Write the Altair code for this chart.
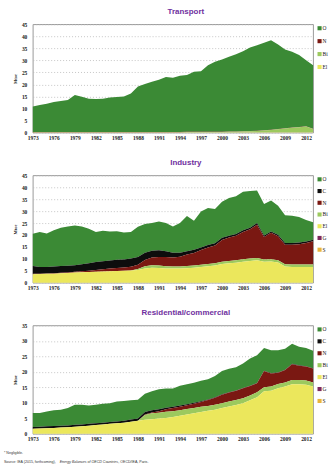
import altair as alt
import pandas as pd

years = list(range(1973, 2014))
tick_years = [1973, 1976, 1979, 1982, 1985, 1988, 1991, 1994, 1997, 2000, 2003, 2006, 2009, 2012]

# ---------------- Transport (Mtoe) ----------------
transport_oil = [10.5, 11.2, 11.7, 12.4, 12.8, 13.2, 15.3, 14.6, 13.8, 13.7, 13.8, 14.3, 14.5, 14.7,
                 15.9, 18.8, 19.9, 20.8, 21.7, 22.8, 22.5, 23.3, 23.5, 24.9, 25.1, 27.6, 29.0, 30.0,
                 31.0, 32.0, 33.2, 34.7, 35.5, 36.3, 37.2, 35.1, 32.7, 31.5, 29.9, 27.5, 26.4]
transport_gas = [0.1, 0.1, 0.1, 0.1, 0.1, 0.1, 0.1, 0.1, 0.1, 0.1, 0.1, 0.1, 0.1, 0.1,
                 0.1, 0.1, 0.1, 0.1, 0.1, 0.1, 0.1, 0.1, 0.1, 0.1, 0.1, 0.1, 0.1, 0.1,
                 0.1, 0.1, 0.1, 0.1, 0.1, 0.1, 0.1, 0.1, 0.1, 0.1, 0.1, 0.1, 0.1]
transport_bio = [0.0, 0.0, 0.0, 0.0, 0.0, 0.0, 0.0, 0.0, 0.0, 0.0, 0.0, 0.0, 0.0, 0.0,
                 0.0, 0.0, 0.0, 0.0, 0.0, 0.0, 0.0, 0.0, 0.1, 0.1, 0.1, 0.1, 0.1, 0.1,
                 0.2, 0.2, 0.3, 0.4, 0.5, 0.7, 0.9, 1.2, 1.5, 1.8, 2.0, 2.3, 1.3]
transport_elec = [0.2, 0.2, 0.2, 0.2, 0.2, 0.2, 0.2, 0.2, 0.2, 0.2, 0.2, 0.2, 0.2, 0.2,
                  0.2, 0.2, 0.2, 0.2, 0.2, 0.2, 0.2, 0.2, 0.2, 0.2, 0.2, 0.2, 0.2, 0.2,
                  0.2, 0.2, 0.2, 0.2, 0.2, 0.2, 0.2, 0.2, 0.2, 0.2, 0.2, 0.2, 0.2]

# ---------------- Industry (Mtoe) ----------------
industry_oil = [13.5, 14.6, 14.0, 15.2, 16.0, 16.5, 16.7, 15.9, 14.4, 12.6,
                12.8, 12.2, 12.0, 11.3, 11.2, 12.7, 12.0, 11.6, 12.1, 11.8,
                11.0, 12.4, 14.8, 12.2, 15.0, 15.5, 14.4, 15.1, 15.8, 15.8,
                16.1, 15.4, 13.6, 13.2, 13.0, 12.2, 11.7, 11.5, 10.7, 9.0, 7.3]
industry_coal = [3.3, 2.8, 2.7, 2.8, 2.8, 2.8, 2.7, 2.9, 3.2, 3.4,
                 3.4, 3.4, 3.4, 3.3, 3.4, 3.3, 3.1, 2.8, 2.8, 2.4,
                 2.0, 1.7, 1.4, 1.3, 1.1, 1.0, 0.9, 0.9, 0.8, 0.7,
                 0.7, 0.6, 0.7, 0.6, 0.6, 0.6, 0.7, 0.7, 0.7, 0.7, 0.6]
industry_gas = [0.2, 0.2, 0.2, 0.2, 0.2, 0.2, 0.3, 0.4, 0.5, 0.7,
                0.9, 1.1, 1.3, 1.4, 1.6, 1.8, 2.6, 3.3, 3.6, 3.9,
                3.8, 4.1, 4.8, 5.3, 6.2, 7.0, 7.5, 9.1, 9.8, 10.3,
                11.5, 12.3, 13.9, 9.5, 11.1, 10.1, 8.2, 8.3, 8.5, 9.0, 9.8]
industry_bio = [0.0, 0.0, 0.0, 0.0, 0.0, 0.0, 0.0, 0.0, 0.0, 0.0,
                0.0, 0.0, 0.0, 0.0, 0.0, 0.4, 1.0, 1.0, 1.0, 0.9,
                0.9, 0.9, 0.9, 0.9, 0.9, 0.9, 0.9, 1.0, 1.0, 1.0,
                1.0, 1.0, 1.0, 0.9, 0.9, 0.9, 0.9, 1.0, 1.0, 1.0, 1.0]
industry_elec = [3.5, 3.6, 3.7, 3.8, 4.0, 4.1, 4.3, 4.4, 4.5, 4.6,
                 4.7, 4.8, 4.9, 5.0, 5.1, 5.3, 5.9, 6.3, 6.2, 6.0,
                 5.9, 5.9, 6.1, 6.3, 6.6, 6.9, 7.2, 7.8, 8.1, 8.4,
                 8.8, 9.1, 9.4, 8.8, 8.9, 8.5, 6.8, 6.6, 6.6, 6.6, 6.6]
industry_geo = [0.0, 0.0, 0.0, 0.0, 0.0, 0.0, 0.0, 0.0, 0.0, 0.0,
                0.0, 0.0, 0.0, 0.0, 0.0, 0.0, 0.0, 0.0, 0.0, 0.0,
                0.0, 0.0, 0.0, 0.0, 0.0, 0.0, 0.0, 0.0, 0.0, 0.0,
                0.0, 0.0, 0.0, 0.0, 0.0, 0.0, 0.0, 0.0, 0.0, 0.0, 0.0]
industry_solar = [0.0, 0.0, 0.0, 0.0, 0.0, 0.0, 0.0, 0.0, 0.0, 0.0,
                  0.0, 0.0, 0.0, 0.0, 0.0, 0.0, 0.0, 0.0, 0.0, 0.0,
                  0.0, 0.0, 0.0, 0.0, 0.0, 0.0, 0.0, 0.0, 0.0, 0.0,
                  0.0, 0.0, 0.0, 0.0, 0.0, 0.0, 0.0, 0.0, 0.0, 0.0, 0.0]

# ---------------- Residential/commercial (Mtoe) ----------------
resid_oil = [4.5, 4.4, 4.8, 5.1, 5.2, 5.6, 6.5, 6.4, 5.9, 6.0,
             6.1, 6.1, 6.4, 6.4, 6.2, 6.1, 5.9, 6.1, 6.5, 6.2,
             5.9, 6.4, 6.5, 6.5, 6.6, 6.5, 6.9, 7.5, 7.6, 7.5,
             7.9, 8.8, 9.0, 7.3, 7.4, 7.2, 6.8, 6.5, 6.0, 5.9, 5.6]
resid_coal = [0.6, 0.6, 0.6, 0.6, 0.6, 0.6, 0.6, 0.6, 0.6, 0.6,
              0.6, 0.6, 0.6, 0.6, 0.7, 0.7, 0.8, 0.7, 0.6, 0.5,
              0.4, 0.4, 0.3, 0.3, 0.2, 0.2, 0.2, 0.2, 0.1, 0.1,
              0.1, 0.1, 0.1, 0.1, 0.1, 0.1, 0.1, 0.1, 0.1, 0.1, 0.1]
resid_gas = [0.0, 0.0, 0.0, 0.0, 0.0, 0.0, 0.0, 0.0, 0.0, 0.0,
             0.0, 0.0, 0.0, 0.0, 0.0, 0.0, 0.1, 0.3, 0.5, 0.8,
             1.0, 1.1, 1.2, 1.4, 1.6, 1.9, 2.2, 2.7, 2.9, 3.0,
             3.2, 3.0, 2.9, 5.3, 4.2, 3.6, 4.0, 5.1, 4.6, 4.5, 4.5]
resid_bio = [0.0, 0.0, 0.0, 0.0, 0.0, 0.0, 0.0, 0.0, 0.0, 0.0,
             0.0, 0.0, 0.0, 0.0, 0.0, 0.0, 1.6, 1.9, 1.9, 2.0,
             1.9, 1.8, 1.8, 1.7, 1.7, 1.6, 1.6, 1.6, 1.6, 1.6,
             1.6, 1.6, 1.6, 1.3, 1.4, 1.4, 1.3, 1.4, 1.4, 1.4, 1.3]
resid_elec = [1.6, 1.7, 1.8, 1.9, 2.0, 2.1, 2.3, 2.4, 2.6, 2.8,
              3.0, 3.2, 3.4, 3.6, 3.9, 4.2, 4.5, 4.7, 4.9, 5.1,
              5.4, 5.8, 6.2, 6.6, 7.0, 7.4, 7.8, 8.3, 8.8, 9.3,
              9.9, 10.8, 11.8, 13.7, 13.9, 14.7, 15.3, 16.0, 16.0, 15.8, 15.3]
resid_geo = industry_geo
resid_solar = industry_solar

COLORS = {
    "Oil": "#3b8a35",
    "Coal": "#0d0d0d",
    "Natural gas": "#7a1812",
    "Biofuels and waste": "#9cc95e",
    "Electricity": "#ebe75c",
    "Geothermal*": "#7d2a5e",
    "Solar*": "#e8b43c",
}

FONT_NARROW = "Liberation Sans Narrow"
TITLE_COLOR = "#7030a0"


def build(series_top_down):
    rows = []
    n = len(series_top_down)
    for k, (name, vals) in enumerate(series_top_down):
        for yr, v in zip(years, vals):
            rows.append({"year": yr, "source": name, "value": v, "rank": n - k})
    return pd.DataFrame(rows)


def panel(title, series_top_down, ymax, height, legend_step, extra=None):
    names = [s[0] for s in series_top_down]
    df = build(series_top_down)
    color_scale = alt.Scale(domain=names, range=[COLORS[n] for n in names])
    area = alt.Chart(df).mark_area(interpolate="linear", opacity=1).encode(
        x=alt.X("year:Q",
                scale=alt.Scale(domain=[1973, 2013], nice=False, zero=False),
                axis=alt.Axis(values=tick_years, format="d", title=None, grid=False,
                              ticks=False, domain=False, labelFont=FONT_NARROW,
                              labelFontSize=5.5, labelFontWeight="bold", labelColor="#222222",
                              labelPadding=3, labelFlush=False, labelOverlap=False)),
        y=alt.Y("value:Q", stack="zero",
                scale=alt.Scale(domain=[0, ymax], nice=False),
                axis=alt.Axis(values=list(range(0, ymax + 1, 5)), title="Mtoe",
                              titleFont=FONT_NARROW, titleFontSize=4.5, titleFontWeight="bold",
                              titleColor="#222222", titlePadding=4,
                              grid=True, gridDash=[1, 2], gridColor="#b8b8b8", gridWidth=0.8,
                              ticks=False, domain=False, labelFont=FONT_NARROW,
                              labelFontSize=5.5, labelFontWeight="bold", labelColor="#222222",
                              labelPadding=6)),
        color=alt.Color("source:N", scale=color_scale, legend=None),
        order=alt.Order("rank:Q", sort="ascending"),
    )
    # legend drawn with the same colour scale; labels are clipped at the page edge
    leg_df = pd.DataFrame({"source": names})
    leg_y = alt.Y("source:N",
                  scale=alt.Scale(type="point", domain=names, padding=0,
                                  range=[4, 4 + legend_step * (len(names) - 1)]),
                  axis=None)
    leg_sq = alt.Chart(leg_df).mark_square(size=17, opacity=1).encode(
        x=alt.value(288.5), y=leg_y,
        color=alt.Color("source:N", scale=color_scale, legend=None),
    )
    leg_txt = alt.Chart(leg_df).mark_text(
        align="left", baseline="middle", font=FONT_NARROW, fontSize=5.5,
        color="#222222", limit=5.5, ellipsis="\u200b",
    ).encode(x=alt.value(291.5), y=leg_y, text="source:N")

    layers = [area, leg_sq, leg_txt]
    if extra is not None:
        layers.extend(extra)
    return alt.layer(*layers).resolve_scale(y="independent").properties(
        width=282, height=height,
        title=alt.TitleParams(title, fontSize=8, fontWeight="bold", color=TITLE_COLOR,
                              font="Liberation Sans", anchor="middle", dx=13, offset=6),
    )


transport = panel("Transport", [
    ("Oil", transport_oil),
    ("Natural gas", transport_gas),
    ("Biofuels and waste", transport_bio),
    ("Electricity", transport_elec),
], 45, 109, 13)

industry = panel("Industry", [
    ("Oil", industry_oil),
    ("Coal", industry_coal),
    ("Natural gas", industry_gas),
    ("Biofuels and waste", industry_bio),
    ("Electricity", industry_elec),
    ("Geothermal*", industry_geo),
    ("Solar*", industry_solar),
], 45, 108, 11.8)

note_df = pd.DataFrame({"t": ["* Negligible."]})
src1_df = pd.DataFrame({"t": ["Source: IEA (2015, forthcoming),"]})
src2_df = pd.DataFrame({"t": ["Energy Balances of OECD Countries"]})
src3_df = pd.DataFrame({"t": [", OECD/IEA, Paris."]})

foot_style = dict(align="left", baseline="middle", font="Liberation Sans", fontSize=3.6, color="#333333")
footnotes = [
    alt.Chart(note_df).mark_text(**foot_style).encode(x=alt.value(-29), y=alt.value(128), text="t:N"),
    alt.Chart(src1_df).mark_text(**foot_style).encode(x=alt.value(-29), y=alt.value(137), text="t:N"),
    alt.Chart(src2_df).mark_text(fontStyle="italic", **foot_style).encode(x=alt.value(27), y=alt.value(137), text="t:N"),
    alt.Chart(src3_df).mark_text(**foot_style).encode(x=alt.value(86), y=alt.value(137), text="t:N"),
]

residential = panel("Residential/commercial", [
    ("Oil", resid_oil),
    ("Coal", resid_coal),
    ("Natural gas", resid_gas),
    ("Biofuels and waste", resid_bio),
    ("Electricity", resid_elec),
    ("Geothermal*", resid_geo),
    ("Solar*", resid_solar),
], 35, 109, 12, extra=footnotes)

chart = alt.vconcat(transport, industry, residential, spacing=43, bounds="flush").resolve_scale(
    color="independent", y="independent"
).properties(
    padding={"left": 3, "top": 6, "right": 0, "bottom": 0},
    background="white",
).configure_view(stroke="#7f7f7f", strokeWidth=0.8).configure_concat(spacing=43)

chart.save("out.html", embed_options={"renderer": "svg", "actions": False})
